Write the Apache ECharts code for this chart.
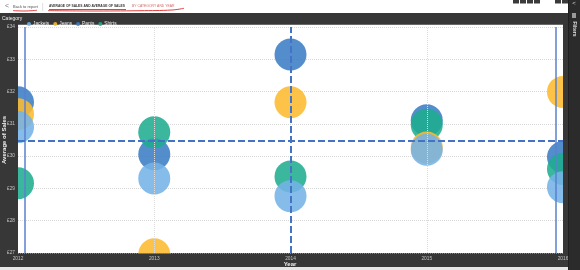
<!DOCTYPE html>
<html><head><meta charset="utf-8">
<script src="https://cdn.jsdelivr.net/npm/echarts@6/dist/echarts.min.js"></script>
<style>html,body{margin:0;padding:0;background:#373737;}#c{width:580px;height:270px;}</style>
</head><body><div id="c"></div>
<script>
// ---- data ----
const categories = ['Jackets', 'Jeans', 'Pants', 'Shirts'];
const years = [2012, 2013, 2014, 2015, 2016];
const jackets = [30.90, 29.31, 28.76, 30.20, 29.04];
const jeans   = [31.30, 26.96, 31.67, 30.27, 31.99];
const pants   = [31.67, 30.06, 33.15, 31.11, 29.97];
const shirts  = [29.16, 30.74, 29.37, 30.97, 29.60];
const yTickValues = [27, 28, 29, 30, 31, 32, 33, 34];
const xTickValues = [2012, 2013, 2014, 2015, 2016];
const avgSales = 30.47;
const avgYear = 2014;
const minYear = 2012, maxYear = 2016;
const leftRefLine = 2012.045, rightRefLine = 2015.955;

const BG = '#373737';
const colors = { Jackets: '#74b3e6', Jeans: '#fdbb2f', Pants: '#3b7dc4', Shirts: '#1fad8f' };
const seriesValues = { Jackets: jackets, Jeans: jeans, Pants: pants, Shirts: shirts };
const drawOrder = ['Pants', 'Shirts', 'Jeans', 'Jackets'];
const FONT = "'Liberation Sans', Arial, sans-serif";

const chart = echarts.init(document.getElementById('c'));

const bubbleSeries = drawOrder.map(name => ({
  name: name,
  type: 'scatter',
  symbol: 'circle',
  symbolSize: 32,
  z: 3,
  clip: false,
  yAxisIndex: 0,
  itemStyle: { color: colors[name], opacity: 0.88 },
  emphasis: { disabled: true },
  data: years.map((y, i) => [y, seriesValues[name][i]])
}));

const lineSeries = {
  type: 'line', data: [], z: 1, silent: true, yAxisIndex: 0,
  markLine: {
    silent: true, symbol: 'none', label: { show: false }, animation: false,
    data: [
      { xAxis: 2013, lineStyle: { color: '#dcdcdc', type: 'dotted', width: 1 } },
      { xAxis: 2015, lineStyle: { color: '#dcdcdc', type: 'dotted', width: 1 } },
      { xAxis: leftRefLine, lineStyle: { color: '#5a80cf', type: 'solid', width: 1.5 } },
      { xAxis: rightRefLine, lineStyle: { color: '#5a80cf', type: 'solid', width: 1.5 } },
      { xAxis: avgYear, lineStyle: { color: '#4472c4', type: [7, 3], width: 2 } },
      { yAxis: avgSales, lineStyle: { color: '#4472c4', type: [7, 3], width: 2 } }
    ]
  }
};

const topIcons = [513, 520, 527, 534, 555, 562].map(x => ({
  type: 'rect', z: 70, shape: { x: x, y: 0, width: 6, height: 3.5 }, style: { fill: '#3a3a3a' }
}));

const masks = [
  { x: 0, y: 13, width: 18, height: 254 },
  { x: 563, y: 13, width: 5, height: 254 },
  { x: 0, y: 253.5, width: 568, height: 14 },
  { x: 0, y: 13, width: 568, height: 11.5 }
].map(s => ({ type: 'rect', z: 50, silent: true, shape: s, style: { fill: BG } }));

const yLabel = { formatter: v => '£' + v, color: '#c4c4c4', fontSize: 4.8, margin: 3, fontFamily: FONT };

chart.setOption({
  animation: false,
  backgroundColor: BG,
  textStyle: { fontFamily: FONT },
  grid: { left: 18, right: 17, top: 27, bottom: 17, show: true, backgroundColor: '#ffffff', borderWidth: 0 },
  legend: {
    data: categories, left: 22, top: 16.5, z: 70, icon: 'circle', itemWidth: 4, itemHeight: 4, itemGap: 4,
    textStyle: { color: '#f0f0f0', fontSize: 4.8, fontFamily: FONT, padding: [0, 0, 0, -3] }
  },
  xAxis: {
    type: 'value', min: minYear, max: maxYear, z: 60,
    axisLine: { show: false }, axisTick: { show: false }, splitLine: { show: false },
    axisLabel: { customValues: xTickValues, formatter: v => String(Math.round(v)), color: '#c4c4c4', fontSize: 4.8, margin: 3, fontFamily: FONT }
  },
  yAxis: [
    {
      type: 'value', min: yTickValues[0], max: yTickValues[yTickValues.length - 1], interval: 1, z: 0,
      axisLine: { show: false }, axisTick: { show: false }, axisLabel: { show: false },
      splitLine: { show: true, lineStyle: { color: '#d8d8d8', type: 'dotted', width: 1 } }
    },
    {
      type: 'value', position: 'left', offset: 0, min: yTickValues[0], max: yTickValues[yTickValues.length - 1], interval: 1, z: 60,
      axisLine: { show: false }, axisTick: { show: false }, splitLine: { show: false },
      axisLabel: yLabel
    }
  ],
  series: [lineSeries].concat(bubbleSeries),
  graphic: [
    { type: 'rect', z: -1, shape: { x: 18, y: 24.5, width: 545, height: 3 }, style: { fill: '#ffffff' } },
    ...masks,
    { type: 'rect', z: 60, shape: { x: 0, y: 0, width: 568, height: 13 }, style: { fill: '#ffffff' } },
    { type: 'rect', z: 60, shape: { x: 0, y: 267, width: 568, height: 3 }, style: { fill: '#e6e6e6' } },
    { type: 'rect', z: 60, shape: { x: 568, y: 0, width: 12, height: 270 }, style: { fill: '#2b2b2b' } },
    { type: 'rect', z: 61, shape: { x: 568, y: 0, width: 1, height: 270 }, style: { fill: '#1f1f1f' } },
    { type: 'text', z: 70, x: 574, y: 3, style: { text: '<', fill: '#dddddd', font: '6px ' + FONT, align: 'center', verticalAlign: 'middle' } },
    { type: 'rect', z: 70, shape: { x: 572, y: 13, width: 4, height: 5 }, style: { fill: '#9a9a9a' } },
    { type: 'text', z: 70, x: 574, y: 29, rotation: -Math.PI / 2, style: { text: 'Filters', fill: '#e0e0e0', font: 'bold 5px ' + FONT, align: 'center', verticalAlign: 'middle' } },
    ...topIcons,
    { type: 'text', z: 70, x: 7, y: 6.5, style: { text: '<', fill: '#777777', font: '7px ' + FONT, align: 'center', verticalAlign: 'middle' } },
    { type: 'text', z: 70, x: 13, y: 6.5, style: { text: 'Back to report', fill: '#555555', font: '4px ' + FONT, verticalAlign: 'middle' } },
    { type: 'rect', z: 70, shape: { x: 42.5, y: 3, width: 0.6, height: 8 }, style: { fill: '#cccccc' } },
    { type: 'text', z: 70, x: 49, y: 6.5, style: { text: 'AVERAGE OF SALES AND AVERAGE OF SALES', fill: '#333333', font: 'bold 3.3px ' + FONT, verticalAlign: 'middle' } },
    { type: 'text', z: 70, x: 132, y: 6.5, style: { text: 'BY CATEGORY AND YEAR', fill: '#d06a6a', font: '3.4px ' + FONT, verticalAlign: 'middle' } },
    { type: 'rect', z: 70, shape: { x: 49, y: 9, width: 77, height: 0.7 }, style: { fill: '#444444' } },
    { type: 'polyline', z: 71, shape: { points: [[13, 10.6], [25, 11], [37, 10.3]], smooth: 0.4 }, style: { stroke: '#e02a2a', lineWidth: 0.9, fill: null } },
    { type: 'polyline', z: 71, shape: { points: [[48, 10.6], [90, 11], [140, 10.7], [172, 10], [184, 8.3]], smooth: 0.4 }, style: { stroke: '#e02a2a', lineWidth: 0.9, fill: null } },
    { type: 'text', z: 70, x: 2, y: 19, style: { text: 'Category', fill: '#f0f0f0', font: '5px ' + FONT, verticalAlign: 'middle' } },
    { type: 'text', z: 70, x: 4.5, y: 140, rotation: Math.PI / 2, style: { text: 'Average of Sales', fill: '#eeeeee', font: 'bold 6px ' + FONT, align: 'center', verticalAlign: 'middle' } },
    { type: 'text', z: 70, x: 290, y: 264, style: { text: 'Year', fill: '#eeeeee', font: 'bold 6px ' + FONT, align: 'center', verticalAlign: 'middle' } }
  ]
});
</script>
</body></html>
